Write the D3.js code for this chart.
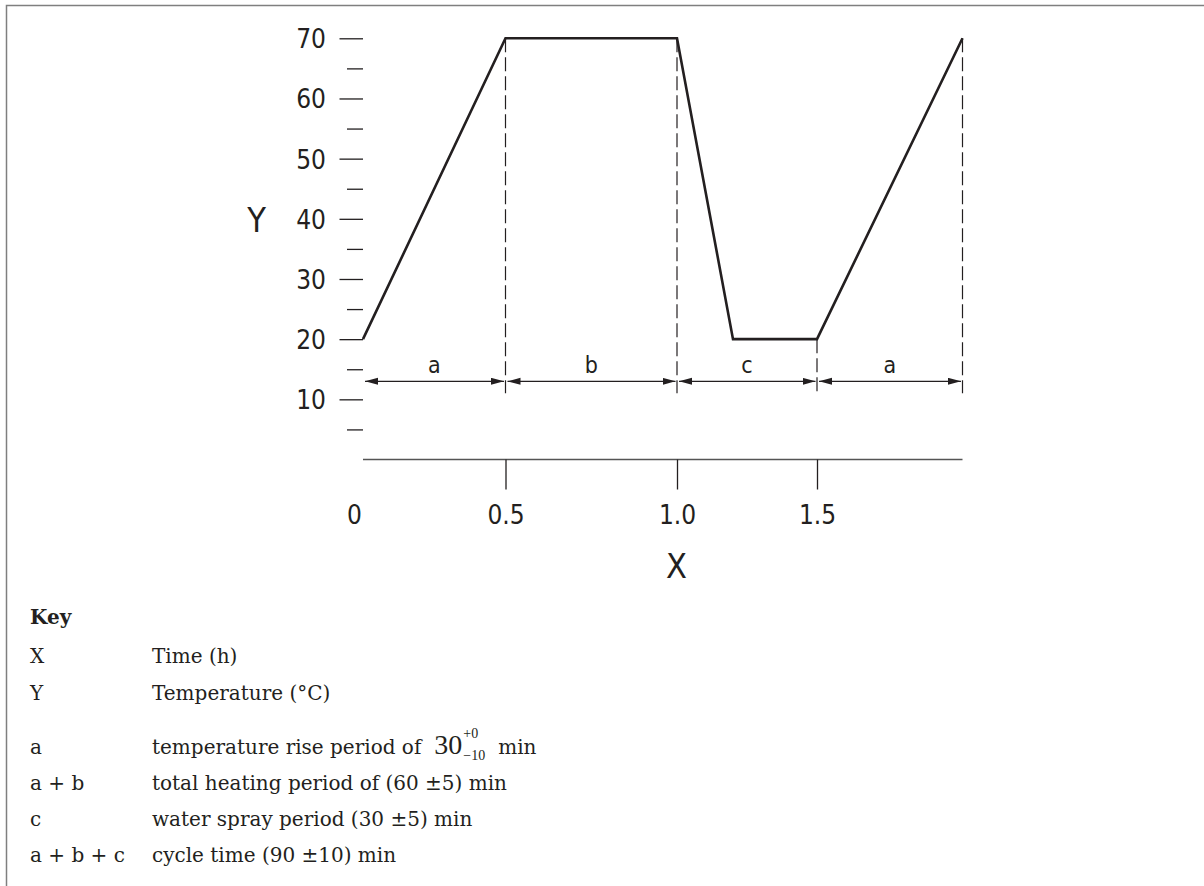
<!DOCTYPE html>
<html><head><meta charset="utf-8">
<script src="https://cdn.jsdelivr.net/npm/d3@7"></script>
<style>html,body{margin:0;padding:0;background:#fff;overflow:hidden}</style>
</head><body>
<script>
// ---- data ----
const timeH = [0, 0.5, 1.0, 1.2, 1.5, 2.0];
const tempC = [20, 70, 70, 20, 20, 70];
const xTickValues = [0, 0.5, 1.0, 1.5];
const xTickLabels = ["0", "0.5", "1.0", "1.5"];
const yMajorTicks = [10, 20, 30, 40, 50, 60, 70];
const yMinorTicks = [5, 15, 25, 35, 45, 55, 65];
const segLabels = ["a", "b", "c", "a"];
const segStart = [0, 0.5, 1.0, 1.5];
const segEnd = [0.5, 1.0, 1.5, 2.0];
const dashTimes = [0.5, 1.0, 1.5, 2.0];
const dashTopTemp = [70, 70, 20, 70];
const keySymbols = ["X", "Y", "a", "a + b", "c", "a + b + c"];
const keyTexts = ["Time (h)", "Temperature (°C)", "temperature rise period of", "total heating period of (60 ±5) min", "water spray period (30 ±5) min", "cycle time (90 ±10) min"];

const W = 1204, H = 886;
const ink = "#231f20";
const sansN = "'Liberation Sans Narrow','DejaVu Sans Condensed','Liberation Sans',sans-serif";
const serif = "'DejaVu Serif',serif";

const svg = d3.select("body").append("svg").attr("width", W).attr("height", H);
svg.append("rect").attr("width", W).attr("height", H).attr("fill", "#fff");
svg.append("path").attr("d", "M6.5," + H + "V5.5H" + W).attr("fill", "none").attr("stroke", "#7f7f7f").attr("stroke-width", 1.5);

const x = d3.scaleLinear().domain([0, 0.5, 1.0, 1.5, 2.0]).range([363, 505.5, 677, 817, 962.5]);
const y = d3.scaleLinear().domain([0, 70]).range([459.5, 38.3]);

// arrow marker
const defs = svg.append("defs");
defs.append("marker").attr("id", "arr").attr("markerUnits", "userSpaceOnUse")
  .attr("markerWidth", 14).attr("markerHeight", 8).attr("refX", 13).attr("refY", 3.5)
  .attr("orient", "auto-start-reverse")
  .append("path").attr("d", "M0,0L13,3.5L0,7Z").attr("fill", ink);

// Y axis (major + minor)
const yMaj = svg.append("g").attr("transform", "translate(363,0)")
  .call(d3.axisLeft(y).tickValues(yMajorTicks).tickSize(23.5).tickPadding(13.5).tickFormat(d3.format("d")));
const yMin = svg.append("g").attr("transform", "translate(363,0)")
  .call(d3.axisLeft(y).tickValues(yMinorTicks).tickSize(16).tickFormat(""));
[yMaj, yMin].forEach(g => {
  g.select(".domain").remove();
  g.selectAll(".tick line").attr("stroke", ink).attr("stroke-width", 1.3);
});
yMaj.selectAll(".tick text").attr("font-family", sansN).attr("font-size", 26).attr("fill", ink).attr("dy", "0.36em");

// X axis
const xAx = svg.append("g").attr("transform", "translate(0," + y(0) + ")")
  .call(d3.axisBottom(x).tickValues(xTickValues).tickSize(30).tickFormat((d, i) => xTickLabels[i]));
xAx.select(".domain").attr("d", "M" + x(0) + ",0H" + x(2)).attr("stroke", "#555").attr("stroke-width", 1.6);
xAx.selectAll(".tick line").attr("stroke", ink).attr("stroke-width", 1.3).filter(d => d === 0).remove();
xAx.selectAll(".tick text").attr("font-family", sansN).attr("font-size", 26).attr("fill", ink)
  .attr("y", 64).attr("dy", 0).attr("dx", d => d === 0 ? -9 : 0);

// axis titles
svg.append("text").attr("x", 256.5).attr("y", 232).attr("text-anchor", "middle")
  .attr("font-family", sansN).attr("font-size", 34).attr("fill", ink).text("Y");
svg.append("text").attr("x", 676.5).attr("y", 578).attr("text-anchor", "middle")
  .attr("font-family", sansN).attr("font-size", 34).attr("fill", ink).text("X");

// dashed extension lines
const dimY = y(13), dashBottom = y(11);
svg.append("g").selectAll("line").data(dashTimes).join("line")
  .attr("x1", d => x(d)).attr("x2", d => x(d))
  .attr("y1", (d, i) => y(dashTopTemp[i])).attr("y2", dashBottom)
  .attr("stroke", ink).attr("stroke-width", 1.2).attr("stroke-dasharray", "14,5");

// dimension arrows
const dims = svg.append("g");
dims.selectAll("line").data(segLabels).join("line")
  .attr("x1", (d, i) => x(segStart[i]) + 2).attr("x2", (d, i) => x(segEnd[i]) - 1.5)
  .attr("y1", dimY).attr("y2", dimY)
  .attr("stroke", ink).attr("stroke-width", 1.3)
  .attr("marker-start", "url(#arr)").attr("marker-end", "url(#arr)");
dims.selectAll("text").data(segLabels).join("text")
  .attr("x", (d, i) => (x(segStart[i]) + x(segEnd[i])) / 2).attr("y", dimY - 8.5)
  .attr("text-anchor", "middle").attr("font-family", sansN).attr("font-size", 23).attr("fill", ink)
  .text(d => d);

// temperature profile
const pts = timeH.map((t, i) => [t, tempC[i]]);
svg.append("path").datum(pts)
  .attr("d", d3.line().x(d => x(d[0])).y(d => y(d[1])))
  .attr("fill", "none").attr("stroke", ink).attr("stroke-width", 2.6).attr("stroke-linejoin", "miter");

// Key
const key = svg.append("g").attr("fill", ink);
key.append("text").attr("x", 30).attr("y", 624).attr("font-family", serif).attr("font-weight", "bold")
  .attr("font-size", 20).text("Key");
const rowY = [663, 700, 754, 790, 826, 862];
keySymbols.forEach((s, i) => {
  key.append("text").attr("x", 30).attr("y", rowY[i]).attr("font-family", serif).attr("font-size", 20).text(s);
  const t = key.append("text").attr("x", 152).attr("y", rowY[i]).attr("font-family", serif).attr("font-size", 20).text(keyTexts[i]);
  if (i === 2) {
    const w = t.node().getComputedTextLength();
    const n = key.append("text").attr("x", 152 + w + 13).attr("y", rowY[i])
      .attr("font-family", "'Liberation Serif',serif").attr("font-size", 28).text("30");
    const nx = 152 + w + 13 + n.node().getComputedTextLength() + 1;
    key.append("text").attr("x", nx).attr("y", rowY[i] - 16).attr("font-family", "'Liberation Serif',serif").attr("font-size", 14).text("+0");
    const sub = key.append("text").attr("x", nx).attr("y", rowY[i] + 6).attr("font-family", "'Liberation Serif',serif").attr("font-size", 14).text("\u221210");
    const sx = nx + sub.node().getComputedTextLength() + 13;
    key.append("text").attr("x", sx).attr("y", rowY[i]).attr("font-family", serif).attr("font-size", 20).text("min");
  }
});
</script>
</body></html>
